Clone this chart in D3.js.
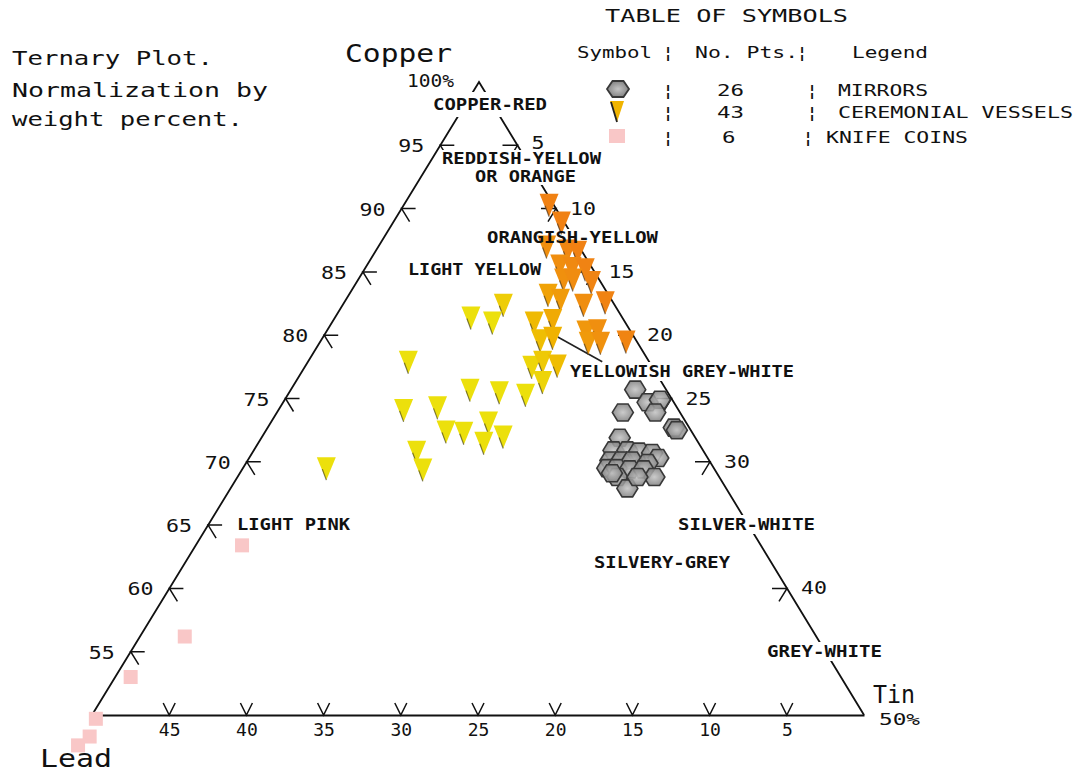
<!DOCTYPE html>
<html>
<head>
<meta charset="utf-8">
<script src="https://cdn.jsdelivr.net/npm/d3@7/dist/d3.min.js"></script>
<style>
    body {margin: 0; background: #fff}
    svg text {font-family: "DejaVu Sans Mono", monospace; fill: #111}
</style>
</head>
<body>
<svg id="ternary" width="1078" height="775"></svg>
<script>
// weight percent, lead = 100 - copper - tin
let mirrorsCopper = [75.7, 74.7, 74.9, 73.9, 73.9, 72.7, 72.5, 71.9, 70.9, 70.9, 70.8, 70.7, 70.3,
    70.1, 70.1, 70.1, 69.9, 69.5, 69.5, 69.4, 69.4, 68.8, 68.8, 67.9, 69.1, 68.8]
let mirrorsTin = [22.3, 23.6, 24.3, 24.5, 22.4, 26.3, 26.6, 23.2, 23.3, 24.2, 25.0, 25.9, 26.5,
    23.5, 24.2, 24.9, 26.0, 23.6, 24.2, 25.1, 26.0, 27.0, 24.6, 25.7, 24.1, 25.9]

let vesselsCopper = [81.4, 82.4, 81.0, 77.9, 75.7, 75.5, 75.3, 74.1, 74.3, 72.4, 72.3, 73.1, 71.5, 72.0, 70.8, 69.4, 69.5,
    90.3, 88.9, 87.0, 86.7, 86.6, 85.5, 85.3, 85.2, 84.4, 84.4, 84.2, 83.2, 82.6, 82.8, 82.4, 81.0, 81.2,
    80.3, 80.4, 79.6, 79.8, 79.4, 79.4, 79.5, 77.5, 77.9, 77.6, 76.3]
let vesselsTin = [8.8, 10.4, 10.4, 6.5, 11.6, 13.6, 15.4, 8.1, 10.2, 11.7, 12.9, 14.1, 14.6, 15.6, 10.6, 11.7, 5.4,
    9.4, 10.9, 10.9, 12.4, 13.1, 12.5, 13.4, 14.3, 13.3, 13.9, 15.2, 12.9, 16.9, 13.9, 15.6, 13.1, 14.2,
    16.8, 17.5, 14.2, 14.9, 17.4, 18.2, 19.8, 14.7, 15.2, 16.3, 16.0]

let coinsCopper = [63.4, 56.2, 53.0, 49.7, 48.3, 47.6]
let coinsTin = [3.0, 2.9, 1.0, 0.4, 0.7, 0.3]

let copperTicks = [95, 90, 85, 80, 75, 70, 65, 60, 55]
let tinTicks = [5, 10, 15, 20, 25, 30, 40]
let leadTicks = [45, 40, 35, 30, 25, 20, 15, 10, 5]

let svg = d3.select('#ternary')
let apex = {x: 479, y: 82}, leftC = {x: 92, y: 715}, rightC = {x: 864, y: 715}

let wCu = d3.scaleLinear().domain([50, 100]).range([0, 1])
let wSn = d3.scaleLinear().domain([0, 50]).range([0, 1])
let leadX = d3.scaleLinear().domain([50, 0]).range([leftC.x, rightC.x])

function proj(cu, sn) {
    let a = wCu(cu), c = wSn(sn)
    return [leftC.x + a * (apex.x - leftC.x) + c * (rightC.x - leftC.x),
        leftC.y + a * (apex.y - leftC.y) + c * (rightC.y - leftC.y)]
}

function txt(g, s, x, y, size, len, anchor, weight) {
    let t = g.append('text')
        .attr('x', x).attr('y', y)
        .style('font-size', size + 'px')
        .attr('text-anchor', anchor || 'start')
        .style('font-weight', weight || 'normal')
        .text(s)
    if (len) t.attr('textLength', len).attr('lengthAdjust', 'spacingAndGlyphs')
    return t
}

// gradient for the mirror hexagons
let defs = svg.append('defs')
let grad = defs.append('radialGradient').attr('id', 'hexfill')
grad.append('stop').attr('offset', '0%').attr('stop-color', '#c4c4c4')
grad.append('stop').attr('offset', '100%').attr('stop-color', '#858585')

// triangle edges
let frame = svg.append('g')
frame.append('path')
    .attr('d', 'M' + leftC.x + ',' + leftC.y + 'L' + apex.x + ',' + apex.y + 'L' + rightC.x + ',' + rightC.y)
    .attr('fill', 'none').attr('stroke', '#111').attr('stroke-width', 1.8)

// bottom axis (lead)
let bottom = svg.append('g')
    .attr('transform', 'translate(0,' + leftC.y + ')')
    .call(d3.axisBottom(leadX).tickValues(leadTicks).tickSize(0).tickPadding(8).tickSizeOuter(0))
bottom.select('.domain').attr('stroke', '#111').attr('stroke-width', 1.8)
bottom.selectAll('text').style('font-size', '18px').style('font-family', '"DejaVu Sans Mono", monospace').attr('fill', '#111')
frame.selectAll('.vtick').data(leadTicks).enter().append('path')
    .attr('d', function (d) {
        let x = leadX(d)
        return 'M' + (x - 6) + ',' + (leftC.y - 12) + 'L' + x + ',' + leftC.y + 'L' + (x + 6) + ',' + (leftC.y - 12)
    })
    .attr('fill', 'none').attr('stroke', '#111').attr('stroke-width', 1.5)

// left axis (copper)
copperTicks.forEach(function (c) {
    let p = proj(c, 0)
    frame.append('path')
        .attr('d', 'M' + (p[0] + 14) + ',' + p[1] + 'L' + p[0] + ',' + p[1] + 'L' + (p[0] + 8) + ',' + (p[1] + 13))
        .attr('fill', 'none').attr('stroke', '#111').attr('stroke-width', 1.5)
    txt(frame, c, p[0] - 16, p[1] + 7, 18, 26, 'end')
})

// right axis (tin) ticks
tinTicks.forEach(function (t) {
    let p = proj(100 - t, t)
    frame.append('path')
        .attr('d', 'M' + (p[0] - 15) + ',' + p[1] + 'L' + p[0] + ',' + p[1] + 'L' + (p[0] - 8) + ',' + (p[1] + 13))
        .attr('fill', 'none').attr('stroke', '#111').attr('stroke-width', 1.5)
})

// white boxes behind the region names that sit on the edges
let masks = [[430, 92, 122, 25], [439, 150, 166, 16], [472, 166, 106, 19], [484, 229, 178, 19],
    [566, 362, 232, 19], [674, 515, 145, 19], [763, 642, 122, 19]]
svg.append('g').selectAll('rect').data(masks).enter().append('rect')
    .attr('x', d => d[0]).attr('y', d => d[1]).attr('width', d => d[2]).attr('height', d => d[3])
    .attr('fill', '#fff')

// tin labels on top of the boxes
let tinLab = svg.append('g')
tinTicks.forEach(function (t) {
    let p = proj(100 - t, t)
    txt(tinLab, t, p[0] + 14, p[1] + (t < 10 ? 4 : 6), 18, t < 10 ? 13 : 26, 'start')
})

// leader line for yellowish grey-white
let l0 = proj(79.86, 15.2), l1 = proj(77.9, 19.06)
svg.append('line').attr('x1', l0[0]).attr('y1', l0[1]).attr('x2', l1[0]).attr('y2', l1[1])
    .attr('stroke', '#222').attr('stroke-width', 1.6)

// symbols
let hexPath = function (w, h) {
    return 'M' + (-w / 2) + ',0L' + (-w / 4) + ',' + (-h / 2) + 'L' + (w / 4) + ',' + (-h / 2) +
        'L' + (w / 2) + ',0L' + (w / 4) + ',' + (h / 2) + 'L' + (-w / 4) + ',' + (h / 2) + 'Z'
}
let triPath = 'M-9.5,-11L9.5,-11L0,12Z'
let vesselColor = d3.scaleLinear()
    .domain([0, 2.5, 5.5, 8.5])
    .range(['#f07f14', '#f0920e', '#f0b400', '#ece00c'])
    .clamp(true)

let mirrors = d3.zip(mirrorsCopper, mirrorsTin)
svg.append('g').selectAll('path').data(mirrors).enter().append('path')
    .attr('transform', d => 'translate(' + proj(d[0], d[1]) + ')')
    .attr('d', hexPath(21, 17))
    .attr('fill', 'url(#hexfill)').attr('fill-opacity', 0.88)
    .attr('stroke', '#383838').attr('stroke-width', 1.6)

let vessels = d3.zip(vesselsCopper, vesselsTin)
let vg = svg.append('g').selectAll('g').data(vessels).enter().append('g')
    .attr('transform', d => 'translate(' + proj(d[0], d[1]) + ')')
vg.append('path').attr('d', triPath)
    .attr('fill', d => vesselColor(100 - d[0] - d[1]))
vg.append('path').attr('d', 'M-4,1L0,12')
    .attr('stroke', '#222').attr('stroke-width', 1.2).attr('opacity', 0.55)

let coins = d3.zip(coinsCopper, coinsTin)
svg.append('g').selectAll('rect').data(coins).enter().append('rect')
    .attr('x', d => proj(d[0], d[1])[0] - 7)
    .attr('y', d => proj(d[0], d[1])[1] - 7)
    .attr('width', 14).attr('height', 14)
    .attr('fill', '#f9c7c7')

// region names
let names = svg.append('g')
txt(names, 'COPPER-RED', 433, 110, 15, 114, 'start', 'bold')
txt(names, 'REDDISH-YELLOW', 442, 164, 15, 159, 'start', 'bold')
txt(names, 'OR ORANGE', 475, 182, 15, 101, 'start', 'bold')
txt(names, 'ORANGISH-YELLOW', 487, 243, 15, 171, 'start', 'bold')
txt(names, 'LIGHT YELLOW', 408, 275, 15, 133, 'start', 'bold')
txt(names, 'YELLOWISH GREY-WHITE', 570, 377, 15, 224, 'start', 'bold')
txt(names, 'LIGHT PINK', 237, 530, 15, 113, 'start', 'bold')
txt(names, 'SILVER-WHITE', 678, 530, 15, 137, 'start', 'bold')
txt(names, 'SILVERY-GREY', 594, 568, 15, 136, 'start', 'bold')
txt(names, 'GREY-WHITE', 767, 657, 15, 115, 'start', 'bold')

// corner labels
txt(svg, 'Copper', 345, 62, 24, 107)
txt(svg, '100%', 407, 87, 17, 47)
txt(svg, 'Tin', 873, 703, 24, 42)
txt(svg, '50%', 879, 725, 16, 41)
txt(svg, 'Lead', 40, 767, 24, 72)

// title block
txt(svg, 'Ternary Plot.', 12, 65, 20, 201)
txt(svg, 'Normalization by', 12, 97, 20, 256)
txt(svg, 'weight percent.', 12, 126, 20, 231)

// table of symbols
let legend = svg.append('g')
txt(legend, 'TABLE OF SYMBOLS', 605, 22, 18, 243)
txt(legend, 'Symbol', 577, 58, 16, 75)
txt(legend, '\u00a6', 668, 58, 16, null, 'middle', 'bold')
txt(legend, 'No. Pts.', 695, 58, 16, 103)
txt(legend, '\u00a6', 802, 58, 16, null, 'middle', 'bold')
txt(legend, 'Legend', 852, 58, 16, 76)

let legendNames = ['MIRRORS', 'CEREMONIAL VESSELS', 'KNIFE COINS']
let legendCounts = ['26', '43', '6']
let rowY = [89, 111, 136]
let nameX = [838, 838, 826], nameLen = [90, 235, 142], barX = [812, 812, 808]
legendNames.forEach(function (n, i) {
    txt(legend, '\u00a6', 668, rowY[i] + 7, 16, null, 'middle', 'bold')
    txt(legend, legendCounts[i], i == 2 ? 722 : 717, rowY[i] + 7, 16, legendCounts[i].length * 13.5)
    txt(legend, '\u00a6', barX[i], rowY[i] + 7, 16, null, 'middle', 'bold')
    txt(legend, n, nameX[i], rowY[i] + 7, 16, nameLen[i])
})
legend.append('path').attr('transform', 'translate(618,' + rowY[0] + ')')
    .attr('d', hexPath(22, 16)).attr('fill', 'url(#hexfill)')
    .attr('stroke', '#383838').attr('stroke-width', 1.8)
legend.append('path').attr('transform', 'translate(617,' + rowY[1] + ')')
    .attr('d', 'M-7,-10L7,-10L0,11Z').attr('fill', '#f0b400')
legend.append('path').attr('transform', 'translate(617,' + rowY[1] + ')')
    .attr('d', 'M-6,-9L0,11').attr('stroke', '#222').attr('stroke-width', 1.8)
legend.append('rect').attr('x', 609).attr('y', rowY[2] - 7).attr('width', 16).attr('height', 14)
    .attr('fill', '#f9c7c7')
</script>
</body>
</html>
